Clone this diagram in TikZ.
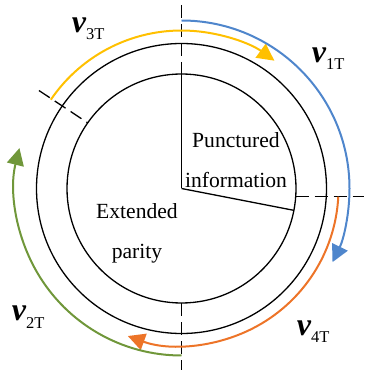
\documentclass[tikz,border=0pt]{standalone}
\usepackage{fontspec}
\setmainfont{Liberation Serif}
\usepackage{xcolor}
\usetikzlibrary{arrows.meta, positioning, calc}

\definecolor{arcyellow}{HTML}{FFC000}
\definecolor{arcblue}{HTML}{4F86CC}
\definecolor{arcorange}{HTML}{ED7428}
\definecolor{arcgreen}{HTML}{70973A}

\newcommand{\vlab}[1]{{\fontsize{32}{32}\selectfont\bfseries\itshape v}\raisebox{-7.7pt}{\fontsize{16.5}{16.5}\selectfont #1}}

\begin{document}
\begin{tikzpicture}[
    x=1pt, y=1pt,
    ring/.style={circle, draw, line width=1.3pt, outer sep=0pt, inner sep=0pt},
    cut/.style={line width=1.3pt, dash pattern=on 13pt off 6pt},
    radius line/.style={line width=1.3pt},
    flow/.style={line width=2pt, -{Triangle[length=17pt, width=17pt]}},
    part/.style={align=center, inner sep=0pt, anchor=north, font=\fontsize{21.6}{40}\selectfont},
    vname/.style={inner sep=0pt, anchor=base west}
]
\useasboundingbox (-181.5,-185.5) rectangle (182.5,188.5);

% Rings
\coordinate (O) at (0,0);
\node[ring, minimum size=229pt] (inner) at (O) {};
\node[ring, minimum size=290pt] (outer) at (O) {};

% Radii of the punctured part
\draw[radius line] (O) -- (inner.north);
\draw[radius line] (O) -- (inner.-11.7);

% Cut lines
\coordinate (topend) at (0,183.5);
\coordinate (botend) at (0,-181.5);
\coordinate (hstart) at (114.2,-8.2);
\coordinate (hend) at (182.5,-8.2);
\coordinate (dend) at (145.5:173);
\draw[cut] (topend) -- (inner.north);
\draw[cut] (inner.south) -- (botend);
\draw[cut] (hstart) -- (hend);
\draw[cut] (dend) -- (inner.145.5);

% Labels inside
\node[part] (punct) at (54.5,56.5) {Punctured\\information};
\node[part] (ext) at (-44.5,-14.75) {Extended\\parity};

% Transmission arcs
\coordinate (s3) at (145.8:158);
\coordinate (s1) at (90:168);
\coordinate (s4) at (-3:157);
\coordinate (s2) at (-90:167);
\draw[flow, arcyellow] (s3) arc[start angle=145.8, end angle=54, radius=158];
\draw[flow, arcblue] (s1) arc[start angle=90, end angle=-26, radius=168];
\draw[flow, arcorange] (s4) arc[start angle=-3, end angle=-110, radius=157];
\draw[flow, arcgreen] (s2) arc[start angle=-90, end angle=-194, radius=167];

% Names
\node[vname] (v3) at (-109.8,156.2) {\vlab{3T}};
\node[vname] (v1) at (130.2,126.2) {\vlab{1T}};
\node[vname] (v2) at (-169.8,-132.2) {\vlab{2T}};
\node[vname] (v4) at (115.2,-146.5) {\vlab{4T}};

\end{tikzpicture}
\end{document}
